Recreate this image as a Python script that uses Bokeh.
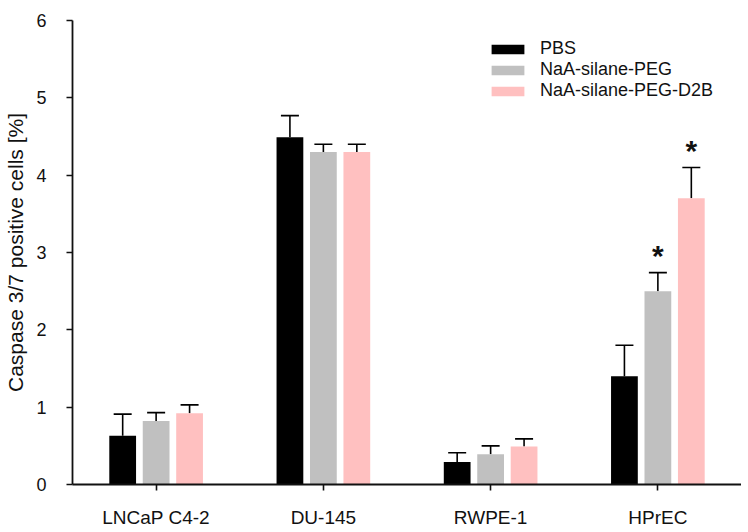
from bokeh.plotting import figure
from bokeh.models import ColumnDataSource, FactorRange, Range1d, FixedTicker, Whisker, TeeHead, Legend, LegendItem
from bokeh.transform import dodge
from bokeh.core.properties import value
from bokeh.embed import file_html
from bokeh.resources import INLINE

categories = ["LNCaP C4-2", "DU-145", "RWPE-1", "HPrEC"]
series_names = ["PBS", "NaA-silane-PEG", "NaA-silane-PEG-D2B"]
pbs = [0.63, 4.49, 0.29, 1.40]
pbs_err = [0.28, 0.28, 0.12, 0.40]
peg = [0.82, 4.30, 0.39, 2.50]
peg_err = [0.11, 0.10, 0.11, 0.24]
d2b = [0.92, 4.30, 0.49, 3.70]
d2b_err = [0.11, 0.10, 0.10, 0.40]
# significance markers (category, series index, label)
star_cats = ["HPrEC", "HPrEC"]
star_series = [1, 2]
star_labels = ["*", "*"]
y_ticks = [0, 1, 2, 3, 4, 5, 6]

colors = ["#000000", "#c0c0c0", "#ffc0c0"]
offsets = [-0.2, 0.0, 0.2]
FONT = "Liberation Sans"

vals = [pbs, peg, d2b]
errs = [pbs_err, peg_err, d2b_err]
data = dict(cat=categories)
for i in range(3):
    data[f"v{i}"] = vals[i]
    data[f"h{i}"] = [v + e for v, e in zip(vals[i], errs[i])]
src = ColumnDataSource(data)

p = figure(width=741, height=530, x_range=FactorRange(*categories, range_padding=0),
           y_range=Range1d(0, 6), output_backend="svg", toolbar_location=None,
           min_border_left=72, min_border_top=20, min_border_bottom=45, min_border_right=0)
p.outline_line_color = None
p.xgrid.visible = False
p.ygrid.visible = False
p.background_fill_color = "white"

renderers = []
for i in range(3):
    r = p.vbar(x=dodge("cat", offsets[i], range=p.x_range), top=f"v{i}", width=0.16,
               source=src, fill_color=colors[i], line_color=None)
    renderers.append(r)
    w = Whisker(source=src, base=dodge("cat", offsets[i], range=p.x_range),
                lower=f"v{i}", upper=f"h{i}", lower_head=None,
                upper_head=TeeHead(size=18, line_width=1.6, line_color="black"),
                line_width=1.6, line_color="black")
    p.add_layout(w)

# stars
for s in sorted(set(star_series)):
    sub = ColumnDataSource(dict(
        cat=[c for c, ss in zip(star_cats, star_series) if ss == s],
        y=[data[f"h{s}"][categories.index(c)] for c, ss in zip(star_cats, star_series) if ss == s],
        label=[l for l, ss in zip(star_labels, star_series) if ss == s]))
    p.text(x=dodge("cat", offsets[s], range=p.x_range), y="y", text="label", source=sub,
           text_font=value(FONT), text_font_style="bold", text_font_size="30px",
           text_align="center", text_baseline="middle", y_offset=-17, text_color="#111")

# axes
p.yaxis.ticker = FixedTicker(ticks=y_ticks)
for ax in (p.xaxis[0], p.yaxis[0]):
    ax.axis_line_width = 1.8
    ax.axis_line_color = "#111"
    ax.major_tick_line_width = 1.6
    ax.major_tick_line_color = "#111"
    ax.major_tick_out = 6
    ax.major_tick_in = 0
    ax.minor_tick_line_color = None
    ax.major_label_text_font = FONT
    ax.major_label_text_color = "#111"
p.yaxis.major_label_text_font_size = "18px"
p.yaxis.major_label_standoff = 20
p.xaxis.major_label_text_font_size = "19px"
p.xaxis.major_label_standoff = 16
p.yaxis.axis_label = "Caspase 3/7 positive cells [%]"
p.yaxis.axis_label_text_font = FONT
p.yaxis.axis_label_text_font_style = "normal"
p.yaxis.axis_label_text_font_size = "21px"
p.yaxis.axis_label_text_color = "#111"
p.yaxis.axis_label_standoff = 6

legend = Legend(items=[LegendItem(label=series_names[i], renderers=[renderers[i]]) for i in range(3)],
                location=(415, 383), padding=0, margin=0, spacing=0,
                glyph_width=41, glyph_height=12, label_height=21, label_standoff=12,
                label_text_font=FONT, label_text_font_size="18px", label_text_color="#111",
                border_line_color=None, background_fill_alpha=0)
p.add_layout(legend)

open("out.html", "w").write(file_html(p, INLINE))
